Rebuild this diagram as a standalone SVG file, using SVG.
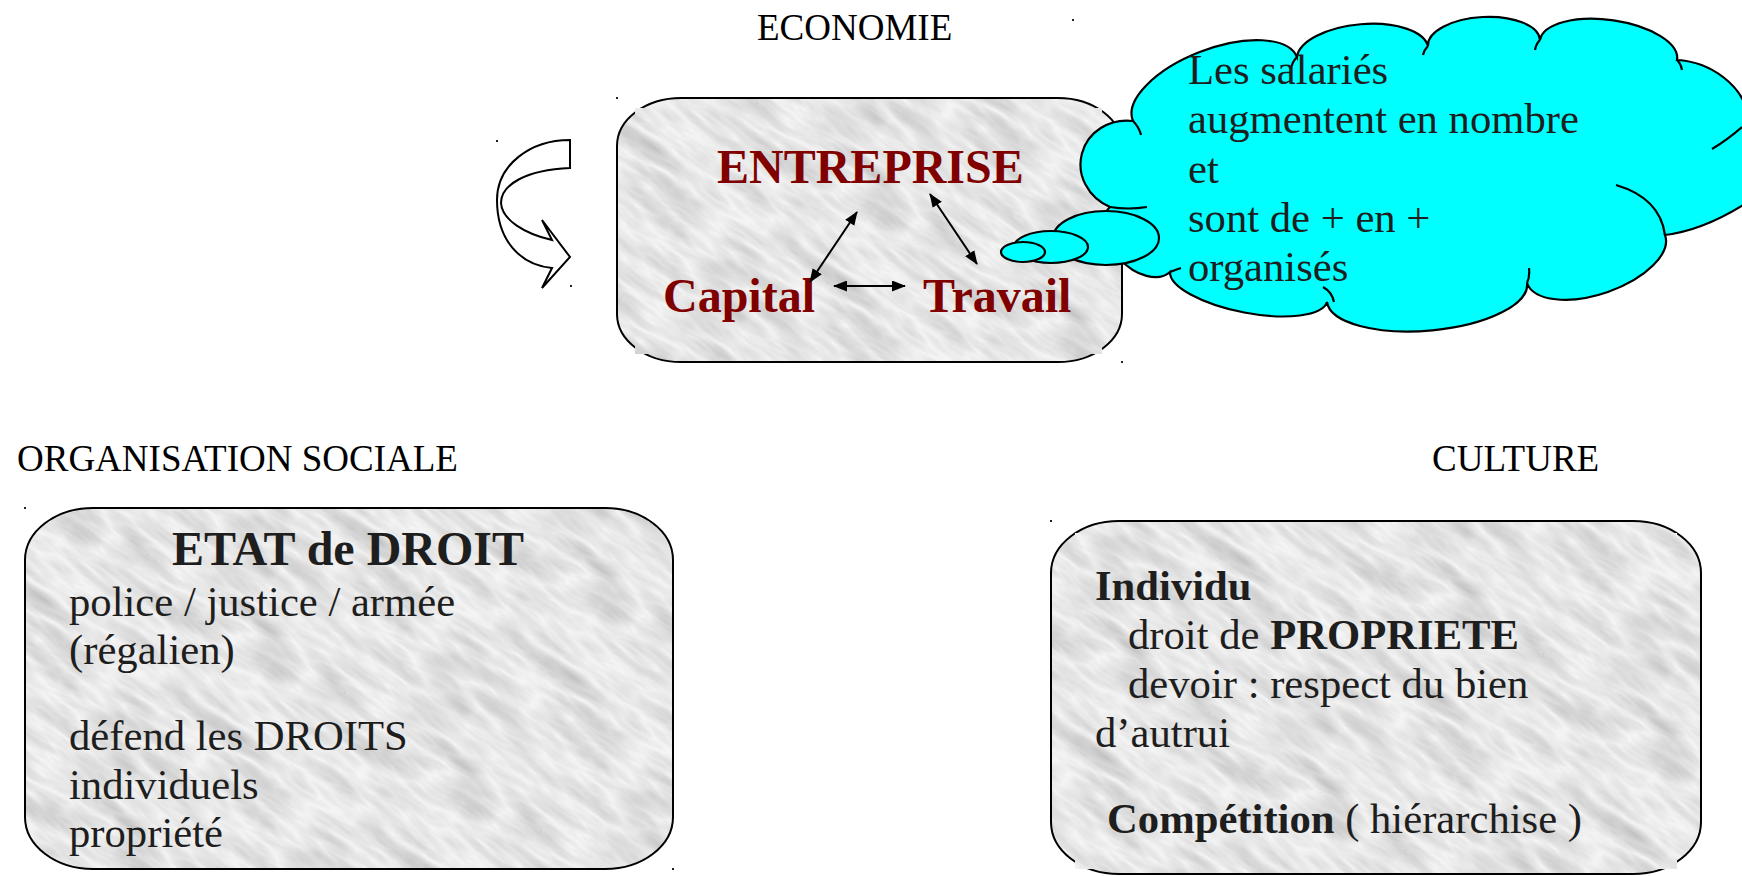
<svg xmlns="http://www.w3.org/2000/svg" width="1742" height="876" viewBox="0 0 1742 876">
<style>
.lbl{font-family:"Liberation Serif","Times New Roman",serif;font-size:37px;fill:#000}
.body{font-family:"Liberation Serif","Times New Roman",serif;font-size:42.67px;fill:#1e1e1e}
.b{font-weight:bold}
.red{font-family:"Liberation Serif","Times New Roman",serif;font-size:48px;font-weight:bold;fill:#800000}
.frame{fill:url(#marble);stroke:#000;stroke-width:2}
.tex{fill:url(#marble)}
.cloud{fill:#00ffff;stroke:#000;stroke-width:2.2}
.stub{fill:none;stroke:#000;stroke-width:2.2}
.link{stroke:#000;stroke-width:2;fill:none;marker-start:url(#ah);marker-end:url(#ah)}
.dot{fill:#222}
</style>
<defs>
<filter id="mf" filterUnits="userSpaceOnUse" x="0" y="0" width="240" height="240" color-interpolation-filters="sRGB">
<feTurbulence type="turbulence" baseFrequency="0.012 0.045" numOctaves="3" seed="7" stitchTiles="stitch"/>
<feColorMatrix type="matrix" values="-0.25 0 0 0 0.965  -0.25 0 0 0 0.965  -0.25 0 0 0 0.965  0 0 0 0 1"/>
</filter>
<pattern id="marble" patternUnits="userSpaceOnUse" width="240" height="240" patternTransform="rotate(35)">
<rect width="240" height="240" filter="url(#mf)"/>
</pattern>
<marker id="ah" viewBox="0 0 14 11" refX="13" refY="5.5" markerWidth="14" markerHeight="11" markerUnits="userSpaceOnUse" orient="auto-start-reverse">
<path d="M0,0 L14,5.5 L0,11 z" fill="#000"/>
</marker>
</defs>
<rect width="1742" height="876" fill="#fff"/>

<g id="label-economie"><text class="lbl" x="757" y="40">ECONOMIE</text><rect class="dot" x="1072" y="19" width="2" height="2"/></g>
<g id="label-organisation"><text class="lbl" x="17" y="471">ORGANISATION SOCIALE</text></g>
<g id="label-culture"><text class="lbl" x="1432" y="471">CULTURE</text></g>

<g id="cycle-arrow">
<path d="M570,140 C530,140 497,165 497,200 C497,240 520,265 552,268 L542,288 L570,257 L542,220 L552,240 C525,234 502,220 501,203 C501,185 525,170 570,168 Z" fill="#fff" stroke="#000" stroke-width="2"/>
<rect class="dot" x="496" y="140" width="2" height="2"/><rect class="dot" x="570" y="285" width="2" height="2"/>
</g>

<g id="node-economie">
<rect class="frame" x="617" y="98" width="505" height="264" rx="64" ry="48"/>
<rect class="tex" x="635" y="108" width="467" height="246"/>
<rect class="dot" x="616" y="97" width="2" height="2"/><rect class="dot" x="1121" y="361" width="2" height="2"/>
<text class="red" x="717" y="183">ENTREPRISE</text>
<text class="red" x="663" y="312">Capital</text>
<text class="red" x="923" y="312">Travail</text>
</g>

<g id="connectors">
<line class="link" x1="810" y1="282" x2="857" y2="212"/>
<line class="link" x1="930" y1="194" x2="977" y2="264"/>
<line class="link" x1="834" y1="286" x2="905" y2="286"/>
</g>

<g id="node-cloud">
<path class="cloud" d="M1110,207 A45 48 -75 0 1 1133,121 A88 40 -21 0 1 1297,57 A66 30 -5 0 1 1428,46 A56 26 -3 0 1 1540,40 A69 30 8 0 1 1677,60 C1712,62 1742,86 1748,114 L1770,114 L1770,200 L1748,202 C1720,220 1690,232 1665,235 A73 35 161 0 1 1527,283 A100 38 175 0 1 1327,302 A80 27 191 0 1 1170,272 A44 28 227 0 1 1110,207 Z"/>
<path class="stub" d="M1110,207 Q1128,210 1147,207 M1133,121 Q1139,127 1141,135 M1297,57 Q1292,62 1291,69 M1428,46 Q1424,50 1423,55 M1540,40 Q1536,44 1535,50 M1677,60 Q1681,64 1682,70 M1712,149 Q1727,140 1742,127 M1616,185 Q1660,198 1665,235 M1529,268 Q1530,277 1527,283 M1323,287 Q1332,292 1334,302 M1170,272 Q1175,270 1181,268"/>
<ellipse class="cloud" cx="1106" cy="238" rx="53" ry="27"/>
<ellipse class="cloud" cx="1051" cy="247" rx="37" ry="16"/>
<ellipse class="cloud" cx="1023" cy="252" rx="22" ry="10"/>
<text class="body" fill="#1a1a1a"><tspan x="1188" y="84">Les salariés</tspan><tspan x="1188" y="133">augmentent en nombre</tspan><tspan x="1188" y="183">et</tspan><tspan x="1188" y="232">sont de + en +</tspan><tspan x="1188" y="281">organisés</tspan></text>
</g>

<g id="node-organisation">
<rect class="frame" x="25" y="508" width="648" height="361" rx="68" ry="52"/>
<rect class="tex" x="49" y="521" width="600" height="334"/>
<rect class="dot" x="24" y="507" width="2" height="2"/><rect class="dot" x="672" y="868" width="2" height="2"/>
<text class="body b" x="348" y="565" text-anchor="middle" style="font-size:48px">ETAT de DROIT</text>
<text class="body"><tspan x="69" y="616">police / justice / armée</tspan><tspan x="69" y="664">(régalien)</tspan><tspan x="69" y="750">défend les DROITS</tspan><tspan x="69" y="799">individuels</tspan><tspan x="69" y="847">propriété</tspan></text>
</g>

<g id="node-culture">
<rect class="frame" x="1051" y="521" width="650" height="353" rx="68" ry="52"/>
<rect class="tex" x="1075" y="533" width="602" height="336"/>
<rect class="dot" x="1050" y="520" width="2" height="2"/>
<text class="body b" x="1095" y="600">Individu</text>
<text class="body" x="1128" y="649">droit de <tspan class="b">PROPRIETE</tspan></text>
<text class="body" x="1128" y="698">devoir : respect du bien</text>
<text class="body" x="1095" y="747">d’autrui</text>
<text class="body" x="1107" y="833"><tspan class="b">Compétition</tspan> ( hiérarchise )</text>
</g>
</svg>
